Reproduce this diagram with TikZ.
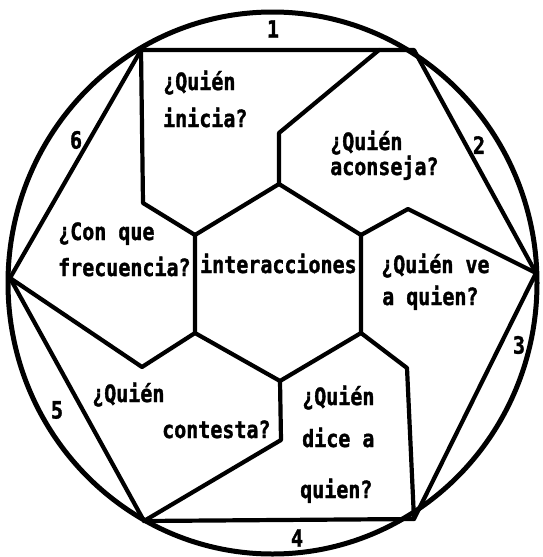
\documentclass[tikz,border=0pt]{standalone}
\usepackage{fontspec}
\newfontfamily\tw[FakeStretch=0.84,BoldFeatures={FakeBold=1.4}]{DejaVu Sans Mono}
\begin{document}
\begin{tikzpicture}[x=1pt,y=-1pt,
  edge/.style={line width=4.2pt, line join=round, line cap=round},
  rim/.style={line width=5pt},
  lbl/.style={anchor=base west, inner sep=0pt, font=\tw\bfseries\fontsize{23.8}{26}\selectfont},
  num/.style={inner sep=0pt, font=\tw\bfseries\fontsize{23.8}{26}\selectfont}]
\useasboundingbox (0,0) rectangle (543,557);
% outer hexagon vertices
\coordinate (TL) at (141,50);
\coordinate (TR) at (414,50);
\coordinate (R)  at (536,273);
\coordinate (BR) at (414,519);
\coordinate (BL) at (144,521);
\coordinate (L)  at (10,278);
% central hexagon
\coordinate (H1) at (279,184);
\coordinate (H2) at (361,235);
\coordinate (H3) at (361,333);
\coordinate (H4) at (280,381);
\coordinate (H5) at (195,333);
\coordinate (H6) at (195,235);
% inner break points
\coordinate (P1) at (379,50);
\coordinate (P2) at (279,133);
\coordinate (Q1) at (143,203);
\coordinate (Q2) at (408,209);
\coordinate (Q3) at (407,368);
\coordinate (Q4) at (281,440);
\coordinate (Q5) at (142,367);

\draw[rim] (272.5,283) ellipse [x radius=264.5pt, y radius=271pt];
\draw[edge] (TL) -- (TR) -- (R) -- (BR) -- (BL) -- (L) -- cycle;
\draw[edge] (H1) -- (H2) -- (H3) -- (H4) -- (H5) -- (H6) -- cycle;
\draw[edge] (TL) -- (Q1) -- (H6);
\draw[edge] (P1) -- (P2) -- (H1);
\draw[edge] (R) -- (Q2) -- (H2);
\draw[edge] (H3) -- (Q3) -- (BR);
\draw[edge] (H4) -- (Q4) -- (BL);
\draw[edge] (L) -- (Q5) -- (H5);

% region texts
\node[lbl] (t1a) at (163,90) {¿Quién};
\node[lbl] (t1b) at (163,127) {inicia?};
\node[lbl] (t2a) at (330,150) {¿Quién};
\node[lbl] (t2b) at (330,175) {aconseja?};
\node[lbl] (t3a) at (58,240) {¿Con que};
\node[lbl] (t3b) at (58,276) {frecuencia?};
\node[lbl] (t0)  at (200,273) {interacciones};
\node[lbl] (t4a) at (381,273) {¿Quién ve};
\node[lbl] (t4b) at (382,305) {a quien?};
\node[lbl] (t5a) at (92,402) {¿Quién};
\node[lbl] (t5b) at (162,438) {contesta?};
\node[lbl] (t6a) at (302,405) {¿Quién};
\node[lbl] (t6b) at (302,447) {dice a};
\node[lbl] (t6c) at (300,498) {quien?};

% edge numbers
\node[num] (n1) at (273,29) {1};
\node[num] (n2) at (479,145) {2};
\node[num] (n3) at (519,345) {3};
\node[num] (n4) at (297,538) {4};
\node[num] (n5) at (57,410) {5};
\node[num] (n6) at (76,140) {6};
\end{tikzpicture}
\end{document}
